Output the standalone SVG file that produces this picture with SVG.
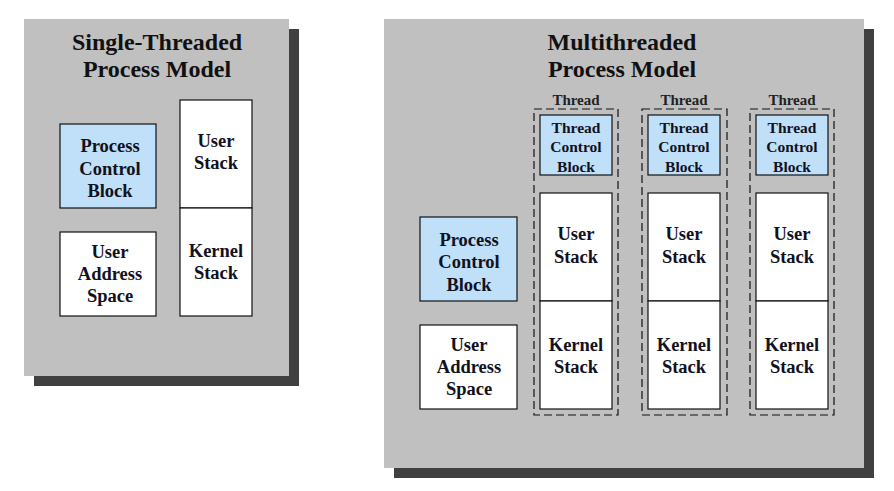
<svg xmlns="http://www.w3.org/2000/svg" width="894" height="491" viewBox="0 0 894 491">
<style>
.panel{fill:#c0c0c0}
.shadow{fill:#404040}
.box{fill:#ffffff;stroke:#111;stroke-width:1.2}
.blue{fill:#bfe0f8;stroke:#111;stroke-width:1.2}
.dash{fill:none;stroke:#111;stroke-width:1.2;stroke-dasharray:8,4}
text{font-family:"Liberation Serif","Times New Roman",serif;font-weight:bold;text-anchor:middle;fill:#111122}
.title{font-size:24px;fill:#111}
.lbl{font-size:18.5px}
.tcb{font-size:15.5px}
.thr{font-size:15px;fill:#222}
</style>
<rect fill="#ffffff" width="894" height="491"/>
<g id="single">
<rect class="shadow" x="34" y="29" width="265" height="357"/>
<rect class="panel" x="24" y="19" width="265" height="357"/>
<text class="title" x="157" y="50">Single-Threaded</text>
<text class="title" x="157" y="77">Process Model</text>
</g>
<g id="s-pcb"><rect class="blue" x="60" y="124" width="96" height="84"/>
<text class="lbl" x="110" y="152">Process</text><text class="lbl" x="110" y="175">Control</text><text class="lbl" x="110" y="197">Block</text></g>
<g id="s-uas"><rect class="box" x="60" y="232" width="96" height="84"/>
<text class="lbl" x="110" y="258">User</text><text class="lbl" x="110" y="280">Address</text><text class="lbl" x="110" y="302">Space</text></g>
<g id="s-us"><rect class="box" x="180" y="100" width="72" height="108"/>
<text class="lbl" x="216" y="147">User</text><text class="lbl" x="216" y="169">Stack</text></g>
<g id="s-ks"><rect class="box" x="180" y="208" width="72" height="108"/>
<text class="lbl" x="216" y="257">Kernel</text><text class="lbl" x="216" y="279">Stack</text></g>

<g id="multi">
<rect class="shadow" x="394" y="29" width="480" height="449"/>
<rect class="panel" x="384" y="19" width="480" height="449"/>
<text class="title" x="622" y="50">Multithreaded</text>
<text class="title" x="622" y="77">Process Model</text>
</g>
<g id="m-pcb"><rect class="blue" x="420" y="217" width="97" height="84"/>
<text class="lbl" x="469" y="246">Process</text><text class="lbl" x="469" y="268">Control</text><text class="lbl" x="469" y="291">Block</text></g>
<g id="m-uas"><rect class="box" x="420" y="325" width="97" height="84"/>
<text class="lbl" x="469" y="351">User</text><text class="lbl" x="469" y="373">Address</text><text class="lbl" x="469" y="395">Space</text></g>

<g id="thread1">
<text class="thr" x="576" y="105">Thread</text>
<rect class="dash" x="534" y="109" width="84" height="306"/>
<rect class="blue" x="540" y="115" width="72" height="60"/>
<text class="tcb" x="576" y="133">Thread</text><text class="tcb" x="576" y="152">Control</text><text class="tcb" x="576" y="172">Block</text>
<rect class="box" x="540" y="193" width="72" height="108"/>
<text class="lbl" x="576" y="240">User</text><text class="lbl" x="576" y="263">Stack</text>
<rect class="box" x="540" y="301" width="72" height="108"/>
<text class="lbl" x="576" y="351">Kernel</text><text class="lbl" x="576" y="373">Stack</text>
</g>
<g id="thread2">
<text class="thr" x="684" y="105">Thread</text>
<rect class="dash" x="642" y="109" width="85" height="306"/>
<rect class="blue" x="648" y="115" width="72" height="60"/>
<text class="tcb" x="684" y="133">Thread</text><text class="tcb" x="684" y="152">Control</text><text class="tcb" x="684" y="172">Block</text>
<rect class="box" x="648" y="193" width="72" height="108"/>
<text class="lbl" x="684" y="240">User</text><text class="lbl" x="684" y="263">Stack</text>
<rect class="box" x="648" y="301" width="72" height="108"/>
<text class="lbl" x="684" y="351">Kernel</text><text class="lbl" x="684" y="373">Stack</text>
</g>
<g id="thread3">
<text class="thr" x="792" y="105">Thread</text>
<rect class="dash" x="750" y="109" width="84" height="306"/>
<rect class="blue" x="756" y="115" width="72" height="60"/>
<text class="tcb" x="792" y="133">Thread</text><text class="tcb" x="792" y="152">Control</text><text class="tcb" x="792" y="172">Block</text>
<rect class="box" x="756" y="193" width="72" height="108"/>
<text class="lbl" x="792" y="240">User</text><text class="lbl" x="792" y="263">Stack</text>
<rect class="box" x="756" y="301" width="72" height="108"/>
<text class="lbl" x="792" y="351">Kernel</text><text class="lbl" x="792" y="373">Stack</text>
</g>
<g id="connectors"></g>
</svg>
